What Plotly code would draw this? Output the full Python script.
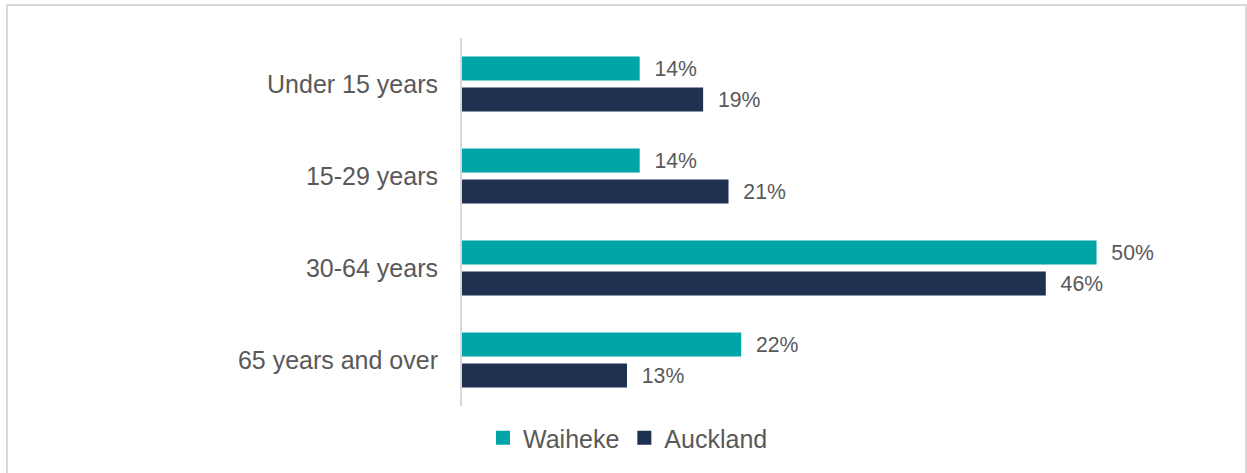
import plotly.graph_objects as go

categories = ["Under 15 years", "15-29 years", "30-64 years", "65 years and over"]
waiheke = [14, 14, 50, 22]
auckland = [19, 21, 46, 13]
series_names = ["Waiheke", "Auckland"]

teal = "#00A6A7"
navy = "#1E3150"
grey_text = "#595959"
font_family = "Liberation Sans, Arial, sans-serif"

W, H = 1247, 473
L, R = 462, 1160
T, B = 38, 406
pw, ph = R - L, B - T

fig = go.Figure()
for name, vals, col in [(series_names[0], waiheke, teal), (series_names[1], auckland, navy)]:
    fig.add_trace(go.Bar(
        y=categories, x=vals, name=name, orientation="h",
        marker=dict(color=col, line=dict(width=0)),
        texttemplate="\u00a0\u00a0%{x}%", textposition="outside",
        textfont=dict(size=23, color=grey_text, family=font_family),
        cliponaxis=False, showlegend=False,
    ))
# legend entries with square swatches
for name, col in [(series_names[0], teal), (series_names[1], navy)]:
    fig.add_trace(go.Scatter(
        x=[None], y=[None], mode="markers", name=name,
        marker=dict(symbol="square", size=14, color=col),
    ))

fig.update_layout(
    width=W, height=H,
    margin=dict(l=L, r=W - R, t=T, b=H - B, pad=0),
    paper_bgcolor="white", plot_bgcolor="white",
    barmode="group", bargap=0.326, bargroupgap=0.226,
    font=dict(family=font_family, color=grey_text, size=25),
    showlegend=True,
    legend=dict(orientation="h", x=(628 - L) / pw, xanchor="center",
                y=(B - 438) / ph, yanchor="middle",
                font=dict(size=25, color=grey_text), traceorder="normal",
                itemsizing="trace", itemwidth=30),
    xaxis=dict(range=[0, 55], showgrid=False, showticklabels=False,
               zeroline=False, showline=False, fixedrange=True),
    yaxis=dict(autorange="reversed", showgrid=False, showline=True,
               linecolor="#D9D9D9", linewidth=2, ticks="",
               ticklabelstandoff=17, tickfont=dict(size=25, color=grey_text)),
    shapes=[dict(type="rect", xref="paper", yref="paper",
                 x0=(7 - L) / pw, x1=(1246 - L) / pw,
                 y0=(B - 480) / ph, y1=1 + (T - 5) / ph,
                 line=dict(color="#D9D9D9", width=2), fillcolor="rgba(0,0,0,0)",
                 layer="below")],
)

fig.write_html("out.html", config={"displayModeBar": False},
               post_script="document.body.style.margin='0';document.body.style.overflow='hidden';")
